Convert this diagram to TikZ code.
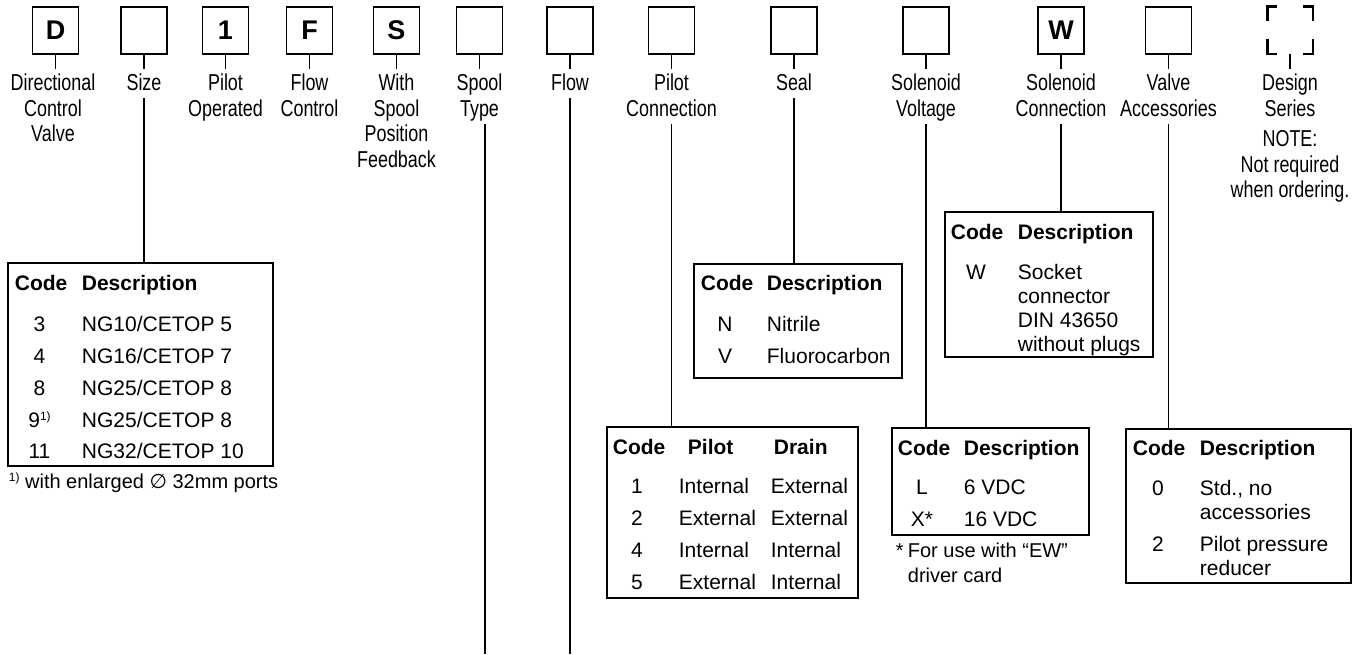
\documentclass[tikz,border=0pt]{standalone}
\usepackage{fontspec}
\setmainfont{Liberation Sans}
\newfontfamily\condfont[FakeStretch=0.78]{Liberation Sans}
\newfontfamily\symfont{DejaVu Sans}
\begin{document}
\begin{tikzpicture}[x=1pt,y=-1pt,line width=1.8pt,
  codebox/.style={draw,minimum width=46pt,minimum height=47pt,inner sep=0pt,font=\fontsize{27}{27}\selectfont\bfseries},
  lbl/.style={anchor=north,inner sep=0pt,align=center,text depth=0pt,font=\condfont\fontsize{23}{25.5}\selectfont},
  tab/.style={draw,inner sep=0pt},
  tx/.style={anchor=base west,inner sep=0pt,font=\fontsize{21}{24}\selectfont},
  txc/.style={anchor=base,inner sep=0pt,font=\fontsize{21}{24}\selectfont},
  th/.style={anchor=base west,inner sep=0pt,font=\fontsize{21}{24}\selectfont\bfseries},
  fn/.style={anchor=base west,inner sep=0pt,font=\fontsize{20}{23}\selectfont},
  corner/.style={line width=2.8pt},
]
\useasboundingbox (0,0) rectangle (1361,654);
% top code boxes
\node[codebox] (bD) at (55.5,30.5) {D};
\node[codebox] (bSize) at (144,30.5) {};
\node[codebox] (bPilot) at (225.5,30.5) {1};
\node[codebox] (bF) at (309.5,30.5) {F};
\node[codebox] (bS) at (396.5,30.5) {S};
\node[codebox] (bSpool) at (479.5,30.5) {};
\node[codebox] (bFlow) at (570,30.5) {};
\node[codebox] (bPC) at (671.5,30.5) {};
\node[codebox] (bSeal) at (794,30.5) {};
\node[codebox] (bSV) at (926,30.5) {};
\node[codebox] (bW) at (1061,30.5) {W};
\node[codebox] (bVA) at (1168.5,30.5) {};
\node[minimum width=44pt,minimum height=46pt,inner sep=0pt] (bDes) at (1290,30) {};
\draw[corner] ([yshift=-15pt]bDes.north west) -- (bDes.north west) -- ([xshift=10pt]bDes.north west);
\draw[corner] ([yshift=-15pt]bDes.north east) -- (bDes.north east) -- ([xshift=-10pt]bDes.north east);
\draw[corner] ([yshift=15pt]bDes.south west) -- (bDes.south west) -- ([xshift=10pt]bDes.south west);
\draw[corner] ([yshift=15pt]bDes.south east) -- (bDes.south east) -- ([xshift=-10pt]bDes.south east);
% labels
\node[lbl] (lD) at (53,73) {Directional\\Control\\Valve};
\node[lbl] (lSize) at (144,73) {Size};
\node[lbl] (lPilot) at (225.5,73) {Pilot\\Operated};
\node[lbl] (lF) at (309.5,73) {Flow\\Control};
\node[lbl] (lS) at (396.5,73) {With\\Spool\\Position\\Feedback};
\node[lbl] (lSpool) at (479.5,73) {Spool\\Type};
\node[lbl] (lFlow) at (570,73) {Flow};
\node[lbl] (lPC) at (671.5,73) {Pilot\\Connection};
\node[lbl] (lSeal) at (794,73) {Seal};
\node[lbl] (lSV) at (926,73) {Solenoid\\Voltage};
\node[lbl] (lW) at (1061,73) {Solenoid\\Connection};
\node[lbl] (lVA) at (1168.5,73) {Valve\\Accessories};
\node[lbl] (lDes) at (1290,73) {Design\\Series\\[5pt]NOTE:\\Not required\\when ordering.};
% ticks
\foreach \n in {D,Size,Pilot,F,S,Spool,Flow,PC,Seal,SV,W,VA,Des}
  \draw[shorten >=4pt] (b\n.south) -- (b\n.south |- l\n.north);
% tables
\node[tab,minimum width=265pt,minimum height=203pt] (tSize) at (140.5,364.5) {};
\node[tab,minimum width=208pt,minimum height=114pt] (tSeal) at (798,321) {};
\node[tab,minimum width=251pt,minimum height=171pt] (tPC) at (732.5,512.5) {};
\node[tab,minimum width=208pt,minimum height=145pt] (tW) at (1049,284.5) {};
\node[tab,minimum width=197pt,minimum height=107pt] (tSV) at (990.5,481.5) {};
\node[tab,minimum width=225pt,minimum height=154pt] (tVA) at (1238.5,506) {};
% connectors label -> table
\coordinate (spoolEnd) at (485,654);
\coordinate (flowEnd) at (570,654);
\draw ([yshift=-7pt]lSize.south) -- (lSize.south |- tSize.north);
\draw ([xshift=5.5pt,yshift=-7pt]lSpool.south) -- (spoolEnd);
\draw ([yshift=-7pt]lFlow.south) -- (flowEnd);
\draw ([yshift=-7pt]lPC.south) -- (lPC.south |- tPC.north);
\draw ([yshift=-7pt]lSeal.south) -- (lSeal.south |- tSeal.north);
\draw ([yshift=-7pt]lSV.south) -- (lSV.south |- tSV.north);
\draw ([yshift=-7pt]lW.south) -- (lW.south |- tW.north);
\draw ([yshift=-7pt]lVA.south) -- (lVA.south |- tVA.north);
% Size table text
\node[th] (s0a) at (14,290) {Code};
\node[th] (s0b) at (81,290) {Description};
\node[txc] (s1a) at (39.5,331.5) {3};
\node[tx] (s1b) at (81,331.5) {NG10/CETOP 5};
\node[txc] (s2a) at (39.5,363) {4};
\node[tx] (s2b) at (81,363) {NG16/CETOP 7};
\node[txc] (s3a) at (39.5,395) {8};
\node[tx] (s3b) at (81,395) {NG25/CETOP 8};
\node[txc] (s4a) at (39.5,427) {9\raisebox{7pt}{\fontsize{12}{12}\selectfont 1)}};
\node[tx] (s4b) at (81,427) {NG25/CETOP 8};
\node[txc] (s5a) at (39.5,458.5) {11};
\node[tx] (s5b) at (81,458.5) {NG32/CETOP 10};
\node[fn] (sfn) at (8,488) {\raisebox{7pt}{\fontsize{12}{12}\selectfont 1)} with enlarged {\symfont ∅} 32mm ports};
% Seal table text
\node[th] (e0a) at (700,290.5) {Code};
\node[th] (e0b) at (766,290.5) {Description};
\node[txc] (e1a) at (725,331.5) {N};
\node[tx] (e1b) at (766,331.5) {Nitrile};
\node[txc] (e2a) at (725,363.5) {V};
\node[tx] (e2b) at (766,363.5) {Fluorocarbon};
% Pilot connection table text
\node[th] (p0a) at (612,454) {Code};
\node[th] (p0b) at (687,454) {Pilot};
\node[th] (p0c) at (773,454) {Drain};
\node[txc] (p1a) at (637,493.5) {1};
\node[tx] (p1b) at (678,493.5) {Internal};
\node[tx] (p1c) at (770,493.5) {External};
\node[txc] (p2a) at (637,525) {2};
\node[tx] (p2b) at (678,525) {External};
\node[tx] (p2c) at (770,525) {External};
\node[txc] (p3a) at (637,557) {4};
\node[tx] (p3b) at (678,557) {Internal};
\node[tx] (p3c) at (770,557) {Internal};
\node[txc] (p4a) at (637,589) {5};
\node[tx] (p4b) at (678,589) {External};
\node[tx] (p4c) at (770,589) {Internal};
% Solenoid connection table text
\node[th] (w0a) at (950,239.5) {Code};
\node[th] (w0b) at (1017,239.5) {Description};
\node[txc] (w1a) at (976,279) {W};
\node[tx] (w1b) at (1017,279) {Socket};
\node[tx] (w2b) at (1017,303) {connector};
\node[tx] (w3b) at (1017,327) {DIN 43650};
\node[tx] (w4b) at (1017,351) {without plugs};
% Solenoid voltage table text
\node[th] (v0a) at (897,455) {Code};
\node[th] (v0b) at (963,455) {Description};
\node[txc] (v1a) at (922,494) {L};
\node[tx] (v1b) at (963,494) {6 VDC};
\node[txc] (v2a) at (922,526) {X*};
\node[tx] (v2b) at (963,526) {16 VDC};
\node[fn] (vfn1) at (895,557) {*};
\node[fn] (vfn2) at (907,557) {For use with “EW”};
\node[fn] (vfn3) at (907,582) {driver card};
% Valve accessories table text
\node[th] (a0a) at (1132,455) {Code};
\node[th] (a0b) at (1199,455) {Description};
\node[txc] (a1a) at (1158,495) {0};
\node[tx] (a1b) at (1199,495) {Std., no};
\node[tx] (a2b) at (1199,519) {accessories};
\node[txc] (a3a) at (1158,551) {2};
\node[tx] (a3b) at (1199,551) {Pilot pressure};
\node[tx] (a4b) at (1199,575) {reducer};
\end{tikzpicture}
\end{document}
